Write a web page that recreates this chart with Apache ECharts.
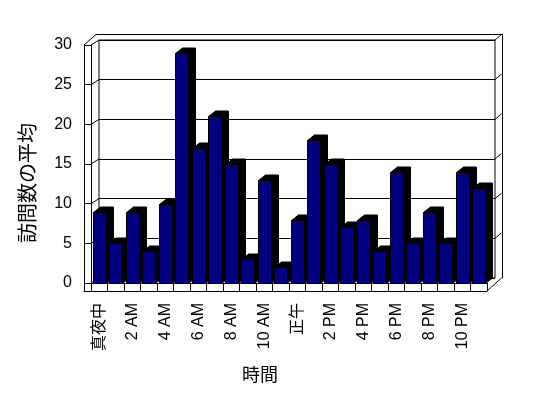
<!DOCTYPE html>
<html>
<head>
<meta charset="utf-8">
<script src="https://cdn.jsdelivr.net/npm/echarts@6/dist/echarts.min.js"></script>
<style>
html, body { margin: 0; padding: 0; background: #fff; }
#main { width: 548px; height: 398px; }
</style>
</head>
<body>
<div id="main"></div>
<script>
// 時間ごとの訪問数の平均
var hours = ['真夜中', '1 AM', '2 AM', '3 AM', '4 AM', '5 AM', '6 AM', '7 AM', '8 AM', '9 AM', '10 AM', '11 AM',
             '正午', '1 PM', '2 PM', '3 PM', '4 PM', '5 PM', '6 PM', '7 PM', '8 PM', '9 PM', '10 PM', '11 PM'];
var visits = [9, 5, 9, 4, 10, 29, 17, 21, 15, 3, 13, 2, 8, 18, 15, 7, 8, 4, 14, 5, 9, 5, 14, 12];
var yTicks = [0, 5, 10, 15, 20, 25, 30];

var FONT = "'Liberation Sans', 'Noto Sans CJK JP', sans-serif";
var line = { show: true, onZero: false, lineStyle: { color: '#000', width: 1 } };

var myChart = echarts.init(document.getElementById('main'));

// 奥行き (手前 -> 奥の壁)
var DX = 8, DY = -5;

function px(v) { return Math.round(v) + 0.5; }

var option = {
    animation: false,
    backgroundColor: '#fff',
    grid: [
        // 奥の壁
        { left: 99, right: 53, top: 40, bottom: 120, show: true, borderColor: '#000', borderWidth: 1, outerBoundsMode: 'none' },
        // 壁の厚み(上と右)
        { left: 96, right: 46, top: 34, bottom: 120, outerBoundsMode: 'none' },
        // 手前の床と左の壁
        { left: 84, right: 61, top: 45, bottom: 107, outerBoundsMode: 'none' },
        // 棒
        { left: 91, right: 61, top: 45, bottom: 115, outerBoundsMode: 'none' }
    ],
    xAxis: [
        { gridIndex: 0, type: 'category', data: hours, show: false },
        { gridIndex: 1, type: 'category', data: hours, position: 'top', axisLine: line,
          axisTick: { show: false }, axisLabel: { show: false } },
        { gridIndex: 2, type: 'category', data: hours, axisLine: line,
          axisTick: { show: false }, axisLabel: { show: false } },
        { gridIndex: 3, type: 'category', data: hours, axisLine: line,
          axisTick: { show: true, interval: 0, length: 8, lineStyle: { color: '#000' } },
          axisLabel: { interval: 1, rotate: 90, margin: 20, color: '#000', fontSize: 16, fontFamily: FONT } }
    ],
    yAxis: [
        { gridIndex: 0, type: 'value', min: 0, max: 30, interval: 5,
          axisLine: { show: false }, axisTick: { show: false }, axisLabel: { show: false },
          splitLine: { show: true, lineStyle: { color: '#000', width: 1 } } },
        { gridIndex: 1, type: 'value', min: 0, max: 30, position: 'right', axisLine: line,
          axisTick: { show: false }, axisLabel: { show: false }, splitLine: { show: false } },
        { gridIndex: 2, type: 'value', min: 0, max: 30, axisLine: line,
          axisTick: { show: false }, axisLabel: { show: false }, splitLine: { show: false } },
        { gridIndex: 3, type: 'value', min: 0, max: 30, interval: 5, axisLine: line,
          axisTick: { show: true, length: 7, lineStyle: { color: '#000' } },
          axisLabel: { margin: 19, color: '#000', fontSize: 16, fontFamily: FONT },
          splitLine: { show: false } }
    ],
    graphic: [
        { type: 'text', x: 29, y: 183, rotation: Math.PI / 2,
          style: { text: '訪問数の平均', fill: '#000', font: '20px ' + FONT,
                   align: 'center', verticalAlign: 'middle', textAlign: 'center', textVerticalAlign: 'middle' } },
        { type: 'text', x: 260, y: 376,
          style: { text: '時間', fill: '#000', font: '18px ' + FONT,
                   align: 'center', verticalAlign: 'middle', textAlign: 'center', textVerticalAlign: 'middle' } }
    ],
    series: [
        {
            // 壁の斜めの線
            type: 'custom',
            xAxisIndex: 3,
            yAxisIndex: 3,
            z: 1,
            data: yTicks.map(function (v) { return [0, v]; }),
            renderItem: function (params, api) {
                var v = api.value(1);
                var bw = api.size([1, 0])[0];
                var y = api.coord([0, v])[1];
                var xl = api.coord([0, v])[0] - bw / 2;
                var xr = api.coord([hours.length - 1, v])[0] + bw / 2;
                var st = { stroke: '#000', lineWidth: 1 };
                var children = [
                    { type: 'line', shape: { x1: xl, y1: y, x2: xl + DX, y2: y + DY }, style: st }
                ];
                if (v === 0) {
                    children.push({ type: 'line', shape: { x1: xr, y1: y + 8, x2: xr + DX + 6.5, y2: y + DY }, style: st });
                } else {
                    children.push({ type: 'line', shape: { x1: xr + DX, y1: y + DY, x2: xr + DX + 6.5, y2: y + DY - 5.5 }, style: st });
                }
                if (v === 30) {
                    children.push({ type: 'line', shape: { x1: xl - 7, y1: y, x2: xl + 5, y2: y - 10.5 }, style: st });
                }
                return { type: 'group', children: children };
            }
        },
        {
            type: 'custom',
            name: '訪問数の平均',
            xAxisIndex: 3,
            yAxisIndex: 3,
            z: 3,
            data: visits.map(function (v, i) { return [i, v]; }),
            renderItem: function (params, api) {
                var c = api.coord([api.value(0), api.value(1)]);
                var base = api.coord([api.value(0), 0])[1];
                var bw = api.size([1, 0])[0];
                var x0 = px(c[0] - bw / 2 + 1.5);
                var w = Math.round(bw * 0.77);
                var top = px(c[1]);
                var b = px(base);
                var dx = 7, dy = -5.5;
                return {
                    type: 'group',
                    children: [
                        { type: 'polygon',
                          shape: { points: [[x0, top], [x0 + dx, top + dy], [x0 + w + dx, top + dy],
                                            [x0 + w + dx, b + dy], [x0 + w, b], [x0 + w, top]] },
                          style: { fill: '#000', stroke: '#000', lineWidth: 1 } },
                        { type: 'rect',
                          shape: { x: x0, y: top, width: w, height: b - top },
                          style: { fill: '#000080', stroke: '#000', lineWidth: 1 } }
                    ]
                };
            }
        }
    ]
};

myChart.setOption(option);
</script>
</body>
</html>
